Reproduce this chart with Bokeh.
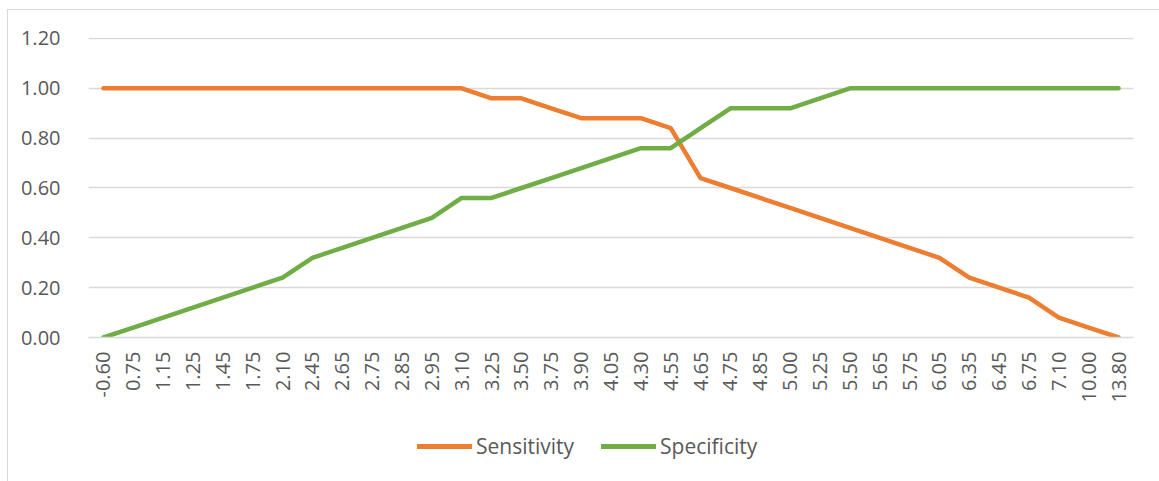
from bokeh.plotting import figure
from bokeh.layouts import column
from bokeh.models import (ColumnDataSource, FactorRange, Range1d, Legend, LegendItem,
                          FixedTicker, NumeralTickFormatter)
from bokeh.embed import file_html
from bokeh.resources import INLINE
import math

thresholds = ["-0.60", "0.75", "1.15", "1.25", "1.45", "1.75", "2.10", "2.45", "2.65", "2.75",
              "2.85", "2.95", "3.10", "3.25", "3.50", "3.75", "3.90", "4.05", "4.30", "4.55",
              "4.65", "4.75", "4.85", "5.00", "5.25", "5.50", "5.65", "5.75", "6.05", "6.35",
              "6.45", "6.75", "7.10", "10.00", "13.80"]
sensitivity = [1.00, 1.00, 1.00, 1.00, 1.00, 1.00, 1.00, 1.00, 1.00, 1.00,
               1.00, 1.00, 1.00, 0.96, 0.96, 0.92, 0.88, 0.88, 0.88, 0.84,
               0.64, 0.60, 0.56, 0.52, 0.48, 0.44, 0.40, 0.36, 0.32, 0.24,
               0.20, 0.16, 0.08, 0.04, 0.00]
specificity = [0.00, 0.04, 0.08, 0.12, 0.16, 0.20, 0.24, 0.32, 0.36, 0.40,
               0.44, 0.48, 0.56, 0.56, 0.60, 0.64, 0.68, 0.72, 0.76, 0.76,
               0.84, 0.92, 0.92, 0.92, 0.96, 1.00, 1.00, 1.00, 1.00, 1.00,
               1.00, 1.00, 1.00, 1.00, 1.00]
y_ticks = [0.0, 0.2, 0.4, 0.6, 0.8, 1.0, 1.2]
series_names = ["Sensitivity", "Specificity"]
series_colors = ["#ED7D31", "#70AD47"]

FONT = "Open Sans"
TXT = "#595959"
GRID = "#D9D9D9"

src = ColumnDataSource(dict(x=thresholds, sens=sensitivity, spec=specificity))

p = figure(x_range=FactorRange(factors=thresholds, range_padding=0),
           y_range=Range1d(0, 1.204), width=1151, height=410,
           output_backend="svg", toolbar_location=None,
           min_border_left=80, min_border_right=26, min_border_top=27, min_border_bottom=83)
p.outline_line_color = None
p.background_fill_color = "white"
p.border_fill_color = "white"

p.line("x", "sens", source=src, line_color=series_colors[0], line_width=4.5,
       line_cap="round", line_join="round")
p.line("x", "spec", source=src, line_color=series_colors[1], line_width=4.5,
       line_cap="round", line_join="round")

p.xgrid.grid_line_color = None
p.ygrid.grid_line_color = GRID
p.ygrid.grid_line_width = 1.3

p.yaxis.ticker = FixedTicker(ticks=y_ticks)
p.yaxis.formatter = NumeralTickFormatter(format="0.00")
p.yaxis.axis_line_color = None
p.yaxis.major_tick_line_color = None
p.yaxis.minor_tick_line_color = None
p.yaxis.major_label_standoff = 22
p.yaxis.major_label_text_font = FONT
p.yaxis.major_label_text_font_size = "20px"
p.yaxis.major_label_text_color = TXT

p.xaxis.axis_line_color = GRID
p.xaxis.axis_line_width = 1.3
p.xaxis.major_tick_line_color = None
p.xaxis.minor_tick_line_color = None
p.xaxis.major_label_orientation = math.pi / 2
p.xaxis.major_label_standoff = 8
p.xaxis.major_label_text_font = FONT
p.xaxis.major_label_text_font_size = "20px"
p.xaxis.major_label_text_color = TXT

# legend strip below the chart (its key lines fall outside its visible range)
lg = figure(x_range=Range1d(0, 1), y_range=Range1d(-3, -2), width=1151, height=61,
            output_backend="svg", toolbar_location=None,
            min_border_left=0, min_border_right=0, min_border_top=0, min_border_bottom=0)
lg.axis.visible = False
lg.grid.visible = False
lg.outline_line_color = None
lg.background_fill_color = "white"
lg.border_fill_color = "white"
items = []
for name, col, vals in zip(series_names, series_colors, [sensitivity, specificity]):
    ksrc = ColumnDataSource(dict(i=list(range(len(vals))), v=vals))
    r = lg.line("i", "v", source=ksrc, line_color=col, line_width=5, line_cap="round")
    items.append(LegendItem(label=name, renderers=[r]))
legend = Legend(items=items, orientation="horizontal", location=(329, 21),
                glyph_width=55, glyph_height=20, label_standoff=4, spacing=27,
                padding=4, margin=0,
                label_text_font=FONT, label_text_font_size="21px", label_text_color=TXT,
                border_line_color=None, background_fill_alpha=0)
lg.add_layout(legend, "center")

layout = column(p, lg, spacing=0)
layout.margin = (9, 0, 0, 7)
layout.styles = {"border-left": "1px solid #d9d9d9", "border-top": "1px solid #d9d9d9"}

open("out.html", "w").write(file_html(layout, INLINE))
